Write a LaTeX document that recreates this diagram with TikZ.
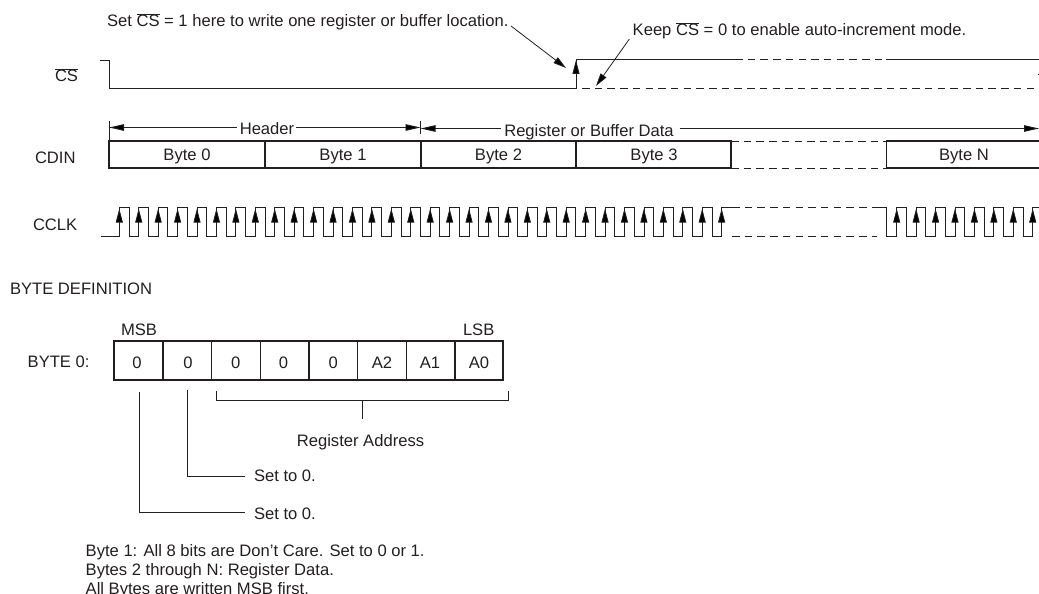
\documentclass[tikz,border=0pt]{standalone}
\usepackage{fontspec}
\setmainfont{Liberation Sans}
\usetikzlibrary{arrows.meta}
\definecolor{ink}{HTML}{231F20}
\newcommand{\ovl}[1]{$\overline{\hbox{#1}}$}
\tikzset{
  x=1pt,y=-1pt,
  every node/.style={font=\fontsize{16.6}{20}\selectfont,text=ink,inner sep=0pt,outer sep=0pt},
  txt/.style={anchor=base west},
  ctr/.style={anchor=base},
  sig/.style={draw=ink,line width=0.9pt},
  thin line/.style={draw=ink,line width=0.8pt},
  dsh/.style={draw=ink,line width=0.9pt,dash pattern=on 7.5pt off 5.2pt},
  box/.style={draw=ink,line width=1.7pt},
  cell/.style={draw=ink,line width=1.5pt},
  edge tip/.style={-{Triangle[length=14pt,width=7pt,fill=black]}},
  dim tip/.style={-{Triangle[length=15pt,width=6.5pt,fill=black]}},
  note tip/.style={-{Triangle[length=13pt,width=7pt,fill=black]}},
}
\begin{document}
\begin{tikzpicture}
\useasboundingbox (0,0) rectangle (1039,594);
\clip (0,0) rectangle (1039,594);
% annotations
\node[txt] (setcs) at (107,27) {Set \ovl{CS} = 1 here to write one register or buffer location.};
\node[txt] (keepcs) at (632.7,35.7) {Keep \ovl{CS} = 0 to enable auto-increment mode.};
% signal labels
\node[txt] (lcs) at (55,81.7) {\ovl{CS}};
\node[txt] (lcdin) at (35,163.3) {CDIN};
\node[txt] (lcclk) at (33,230.7) {CCLK};
% CS waveform
\coordinate (csa) at (100,60);
\coordinate (csb) at (109.5,60);
\coordinate (csc) at (109.5,88.7);
\coordinate (csd) at (576,88.7);
\coordinate (cse) at (576,59.5);
\coordinate (csf) at (735,59.5);
\coordinate (csg) at (886,59.5);
\coordinate (csh) at (1039,59.5);
\coordinate (csi) at (1039,88.7);
\draw[sig] (csa)--(csb)--(csc)--(csd)--(cse)--(csf);
\draw[dsh] (csf)--(csg);
\draw[sig] (csg)--(csh);
\draw[dsh] (csd)+(6,0) -- (csi);
\draw[edge tip,draw=ink,line width=0.9pt] (csd)--([yshift=-0.5pt]cse);
\draw[ink,line width=1pt] (1037.5,75)--(1039,75);
% annotation arrows
\coordinate (n1a) at (511,26);
\coordinate (n1b) at (566,68);
\coordinate (n2a) at (629.4,39);
\coordinate (n2b) at (596,86);
\draw[note tip,draw=ink,line width=0.8pt] (n1a)--(n1b);
\draw[note tip,draw=ink,line width=0.8pt] (n2a)--(n2b);
% header dimensions
\coordinate (t1) at (109,127.5);
\coordinate (t2) at (420.5,127.5);
\node[ctr] (hdr) at (267,134) {Header};
\node[ctr] (reg) at (589,136) {Register or Buffer Data};
\draw[thin line] (420.5,121)--(420.5,134);
\draw[thin line] (109,121)--(109,141);
\draw[dim tip,draw=ink,line width=0.9pt] (hdr.west|-t1)++(-3,0)--(t1);
\draw[dim tip,draw=ink,line width=0.9pt] (hdr.east|-t1)++(2,0)--(t2);
\coordinate (t4) at (420.5,128.5);
\draw[dim tip,draw=ink,line width=0.9pt] (reg.west|-t4)++(-3,0)--(t4);
\coordinate (t3) at (1039,128.5);
\draw[dim tip,draw=ink,line width=0.9pt] (reg.east|-t3)++(6,0)--(t3);
% CDIN
\node[ctr] (b0) at (187,160) {Byte 0};
\node[ctr] (b1) at (343,160) {Byte 1};
\node[ctr] (b2) at (498.5,160) {Byte 2};
\node[ctr] (b3) at (654,160) {Byte 3};
\node[ctr] (bn) at (964,160) {Byte N};
\draw[box] (109,141.3) rectangle (731,168.3);
\foreach \x in {265,421,576}{\draw[box,line width=1.4pt] (\x,141.3)--(\x,168.3);}
\draw[dsh] (731,141.3)--(886,141.3);
\draw[dsh] (731,168.3)--(886,168.3);
\draw[box] (1045,141.3)--(886.5,141.3)--(886.5,168.3)--(1045,168.3);
% CCLK
\draw[sig,line width=1pt] (101,236.7)--(119.3,236.7);
\foreach \i in {0,...,31}{
  \pgfmathsetmacro{\xa}{119.3+19.43*\i}
  \pgfmathsetmacro{\xb}{\xa+9.7}
  \pgfmathsetmacro{\xc}{\xa+19.43}
  \draw[sig,line width=0.8pt] (\xa,236.7)--(\xa,207.3)--(\xb,207.3);
  \ifnum\i<31 \draw[sig,line width=0.8pt] (\xb,207.3)--(\xb,236.7)--(\xc,236.7); \fi
  \draw[edge tip,draw=ink,line width=0.8pt] (\xa,236.7)--(\xa,208.6);
}
\draw[dsh] (732,207.3)--(877,207.3);
\draw[dsh] (732,236.7)--(877,236.7);
\draw[sig,line width=0.8pt] (721.7,207.3)--(732,207.3);
\draw[sig,line width=0.8pt] (877,207.3)--(886.5,207.3)--(886.5,236.7)--(896.7,236.7);
\foreach \i in {0,...,7}{
  \pgfmathsetmacro{\xa}{896.7+19.43*\i}
  \pgfmathsetmacro{\xb}{\xa+9.7}
  \pgfmathsetmacro{\xc}{\xa+19.43}
  \draw[sig,line width=0.8pt] (\xa,236.7)--(\xa,207.3)--(\xb,207.3)--(\xb,236.7)--(\xc,236.7);
  \draw[edge tip,draw=ink,line width=0.8pt] (\xa,236.7)--(\xa,208.6);
}
% byte definition
\node[txt] (bdef) at (10,294) {BYTE DEFINITION};
\node[txt] (msb) at (121,335) {MSB};
\node[txt] (lsb) at (463,335) {LSB};
\node[txt] (byte0) at (27.7,367.3) {BYTE 0:};
\draw[cell] (114,341)--(503,341)--(503,380)--(114,380)--cycle;
\foreach \x in {163.2,211.7,260.3,308.9,357.5,406.5,455}{\draw[cell] (\x,341)--(\x,380);}
\foreach \x/\t/\n in {137/0/c0,188/0/c1,235.8/0/c2,283.5/0/c3,333.2/0/c4,382/A2/c5,430/A1/c6,479/A0/c7}{
  \node[ctr] (\n) at (\x,368) {\t};
}
% bracket
\coordinate (bra) at (216.7,390.5);
\coordinate (brb) at (216.7,400.7);
\coordinate (brc) at (508.3,400.7);
\coordinate (brd) at (508.3,390.5);
\coordinate (brm) at (362.7,400.7);
\coordinate (bre) at (362.7,419);
\draw[thin line] (bra)--(brb)--(brc)--(brd);
\draw[thin line] (brm)--(bre);
\node[ctr] (regaddr) at (360.5,446.7) {Register Address};
% set to 0
\node[txt] (s1) at (254,481.7) {Set to 0.};
\node[txt] (s2) at (254,519.3) {Set to 0.};
\draw[thin line] (187,390)--(187,476.7)--(245,476.7);
\draw[thin line] (139.4,392)--(139.4,512.3)--(245,512.3);
% notes
\node[txt] (f1) at (85.7,556) {Byte 1: All 8 bits are Don’t Care. Set to 0 or 1.};
\node[txt] (f2) at (85.7,575) {Bytes 2 through N: Register Data.};
\node[txt] (f3) at (85.7,594) {All Bytes are written MSB first.};
\end{tikzpicture}
\end{document}
